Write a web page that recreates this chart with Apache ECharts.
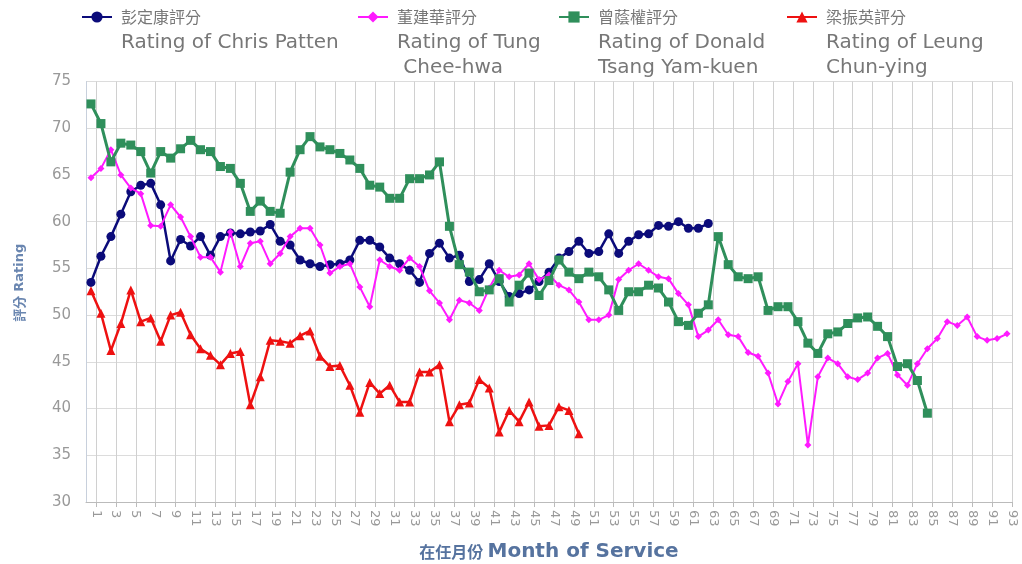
<!DOCTYPE html>
<html><head><meta charset="utf-8">
<script src="https://cdn.jsdelivr.net/npm/echarts@6/dist/echarts.min.js"></script>
<style>html,body{margin:0;padding:0;background:#fff}#c{width:1022px;height:564px}</style>
</head><body><div id="c"></div>
<script>
const monthLabels = ['1','3','5','7','9','11','13','15','17','19','21','23','25','27','29','31','33','35','37','39','41','43','45','47','49','51','53','55','57','59','61','63','65','67','69','71','73','75','77','79','81','83','85','87','89','91','93'];
const seriesNames = ['彭定康評分\nRating of Chris Patten','董建華評分\nRating of Tung\n Chee-hwa','曾蔭權評分\nRating of Donald\nTsang Yam-kuen','梁振英評分\nRating of Leung\nChun-ying'];
const patten = [53.5,56.3,58.4,60.8,63.2,63.9,64.1,61.8,55.8,58.1,57.4,58.4,56.4,58.4,58.8,58.7,58.9,59.0,59.7,57.9,57.5,55.9,55.5,55.2,55.4,55.5,55.9,58.0,58.0,57.3,56.1,55.5,54.8,53.5,56.6,57.7,56.1,56.4,53.6,53.8,55.5,53.6,52.0,52.3,52.7,53.6,54.6,56.1,56.8,57.9,56.6,56.8,58.7,56.6,57.9,58.6,58.7,59.6,59.5,60.0,59.3,59.3,59.8];
const tung = [64.7,65.7,67.7,65.0,63.6,63.0,59.6,59.5,61.8,60.5,58.4,56.2,56.2,54.6,58.9,55.2,57.7,57.9,55.5,56.6,58.4,59.3,59.3,57.5,54.5,55.2,55.5,53.0,50.9,55.9,55.2,54.8,56.1,55.2,52.6,51.3,49.5,51.6,51.3,50.5,52.9,54.8,54.1,54.3,55.5,53.8,54.3,53.2,52.7,51.4,49.5,49.5,50.0,53.8,54.8,55.5,54.8,54.1,53.9,52.3,51.1,47.7,48.4,49.5,47.9,47.7,46.0,45.6,43.8,40.5,42.9,44.8,36.1,43.4,45.4,44.8,43.4,43.1,43.8,45.4,45.9,43.6,42.5,44.8,46.4,47.5,49.3,48.9,49.8,47.7,47.3,47.5,48.0];
const tsang = [72.6,70.5,66.4,68.4,68.2,67.5,65.2,67.5,66.8,67.8,68.7,67.7,67.5,65.9,65.7,64.1,61.1,62.2,61.1,60.9,65.3,67.7,69.1,68.0,67.7,67.3,66.6,65.7,63.9,63.7,62.5,62.5,64.6,64.6,65.0,66.4,59.5,55.4,54.6,52.5,52.7,53.9,51.4,53.2,54.5,52.1,53.7,55.9,54.6,53.9,54.6,54.1,52.7,50.5,52.5,52.5,53.2,52.9,51.4,49.3,48.9,50.2,51.1,58.4,55.4,54.1,53.9,54.1,50.5,50.9,50.9,49.3,47.0,45.9,48.0,48.2,49.1,49.7,49.8,48.8,47.7,44.5,44.8,43.0,39.5];
const leung = [52.6,50.2,46.2,49.1,52.7,49.3,49.7,47.2,50.0,50.3,47.9,46.4,45.7,44.7,45.9,46.1,40.4,43.4,47.3,47.2,47.0,47.8,48.3,45.6,44.5,44.6,42.5,39.6,42.8,41.6,42.5,40.7,40.7,43.9,43.9,44.7,38.6,40.4,40.6,43.1,42.2,37.5,39.8,38.6,40.7,38.1,38.2,40.2,39.8,37.3];

const toPts = arr => arr.map((v,i)=>[i+1, v]);
const tickVals = monthLabels.map(l => Number(l) + 0.5);
const labelMap = {}; tickVals.forEach((t,i)=>{ labelMap[t] = monthLabels[i]; });

const font = '"DejaVu Sans", "Noto Sans CJK TC", sans-serif';
const cjk = '"Noto Sans CJK TC", sans-serif';
const colors = ['#0b0b7a','#ff1aff','#2f8f5b','#ee1111'];
const symbols = ['circle','diamond','rect','triangle'];
const sizes = [9,7,9,9];
const widths = [2.5,2,3,2.5];
const datas = [patten,tung,tsang,leung];
const legendLeft = [76,352,553,781];

function legendFmt(name){
  const lines = name.split('\n');
  const blanks = Array(lines.length-1).fill('{b| }');
  return blanks.concat(['{cn|'+lines[0]+'}'], lines.slice(1).map(l=>'{en|'+l+'}')).join('\n');
}
function legendTop(name){
  const n = name.split('\n').length;
  const textH = (2*n-1)*25.5;
  return 17 - 5 - (textH/2);
}

const chart = echarts.init(document.getElementById('c'), null, {renderer:'canvas'});
chart.setOption({
  animation:false,
  color: colors,
  legend: seriesNames.map((n,i)=>({
    data:[n], left: legendLeft[i], top: legendTop(n), itemWidth: 30, itemHeight: 14,
    formatter: legendFmt,
    textStyle:{fontFamily:font, fontSize:16, color:'#777', lineHeight:25.5,
      rich:{
        b:{fontSize:16, lineHeight:25.5},
        cn:{fontFamily:cjk, fontSize:16, lineHeight:25.5, color:'#777', padding:[0,0,0,4]},
        en:{fontFamily:font, fontSize:20, lineHeight:25.5, color:'#777', padding:[0,0,0,4]}
      }}
  })),
  grid:{left:86, right:10, top:81.5, bottom:62, containLabel:false, outerBoundsMode:'none'},
  xAxis:{
    type:'value', min:0.5, max:93.5,
    name:'{cn|在任月份} {en|Month of Service}', nameLocation:'middle', nameGap:40,
    nameTextStyle:{fontFamily:font, fontWeight:'bold', color:'#56739f',
      rich:{cn:{fontFamily:cjk, fontSize:16, fontWeight:'bold', color:'#56739f'},
            en:{fontFamily:font, fontSize:20, fontWeight:'bold', color:'#56739f'}}},
    axisLine:{show:true, lineStyle:{color:'#bbb'}},
    axisTick:{show:true, length:5, lineStyle:{color:'#bbb'}, customValues: tickVals},
    axisLabel:{customValues: tickVals, rotate:-90, formatter: v => labelMap[v] ?? '', fontFamily:font, fontSize:13, color:'#999', margin:8},
    splitLine:{show:true, lineStyle:{color:'#d0d0d0', width:1}}
  },
  yAxis:{
    type:'value', min:30, max:75, interval:5,
    name:'{cn|評分} {en|Rating}', nameLocation:'middle', nameGap:60,
    nameTextStyle:{fontFamily:font, fontWeight:'bold', color:'#6a86b0', padding:[0,0,0,18],
      rich:{cn:{fontFamily:cjk, fontSize:13, fontWeight:'bold', color:'#6a86b0'},
            en:{fontFamily:font, fontSize:13, fontWeight:'bold', color:'#6a86b0'}}},
    axisLine:{show:true, lineStyle:{color:'#c8d0dc'}},
    axisTick:{show:false},
    axisLabel:{fontFamily:font, fontSize:15, color:'#999', margin:15},
    splitLine:{show:true, lineStyle:{color:'#dcdcdc', width:1}}
  },
  series: datas.map((d,i)=>({
    name: seriesNames[i], type:'line', data: toPts(d),
    symbol: symbols[i], symbolSize: sizes[i], showAllSymbol:true,
    lineStyle:{width:widths[i], color:colors[i]},
    itemStyle:{color:colors[i]},
    z: 2+i
  }))
});
</script></body></html>
